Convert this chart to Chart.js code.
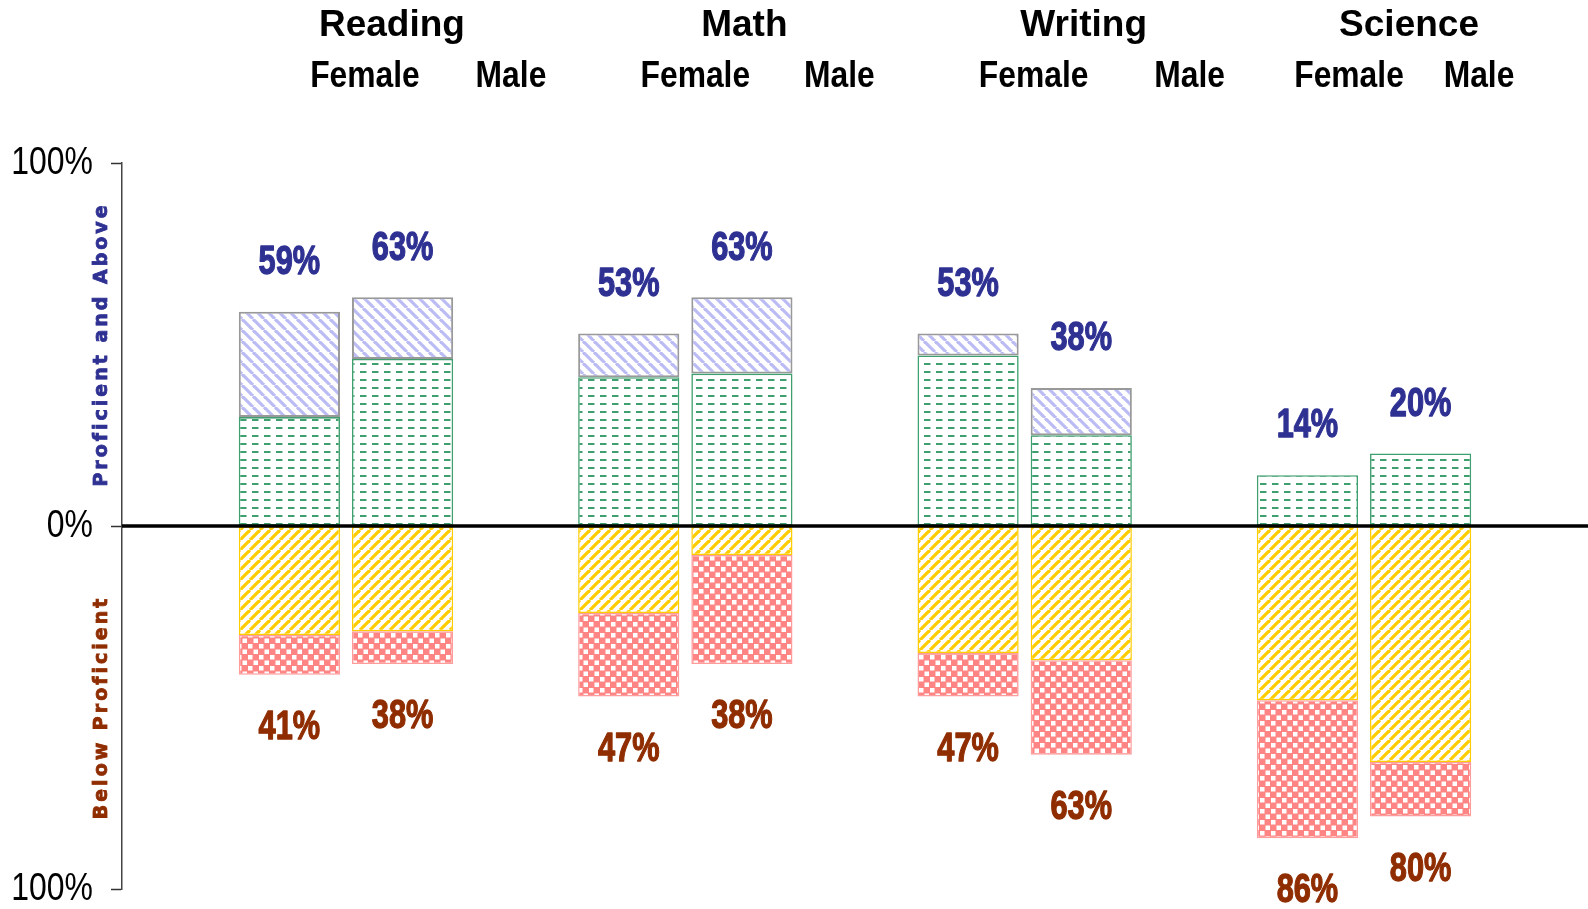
<!DOCTYPE html>
<html>
<head>
<meta charset="utf-8">
<script src="https://cdn.jsdelivr.net/npm/chart.js@4.4.1/dist/chart.umd.min.js"></script>
<style>
html, body { margin: 0; padding: 0; background: #fff; }
#wrap { width: 1588px; height: 909px; position: relative; }
</style>
</head>
<body>
<div id="wrap"><canvas id="chart"></canvas></div>
<script>
var subjects = ["Reading", "Math", "Writing", "Science"];
var genders = ["Female", "Male"];
var yTicks = [100, 0, -100];

// percent of students above the line
var femaleProficient = [30, 41, 47, 14];
var femaleAdvanced   = [29, 12, 6, 0];
var maleProficient   = [46, 42, 25, 20];
var maleAdvanced     = [17, 21, 13, 0];
// percent of students below the line
var femaleBasic      = [-30, -24, -35, -48];
var femaleBelowBasic = [-11, -23, -12, -38];
var maleBasic        = [-29, -8, -37, -65];
var maleBelowBasic   = [-9, -30, -26, -15];

var SANS = '"Liberation Sans", Arial, Helvetica, sans-serif';
var WIDE = '"DejaVu Sans", Verdana, sans-serif';
var BLUE_TXT = "#2e3192";
var BROWN_TXT = "#8f2d00";

// header text offsets from each subject's centre (px)
var subjectDx = [46, 59, 59, 45];
var femaleDx = [19, 10, 9, -15];
var maleDx = [165, 154, 165, 115];

var canvas = document.getElementById("chart");
var mainCtx = canvas.getContext("2d");

function tile(w, h, draw) {
    var c = document.createElement("canvas");
    c.width = w; c.height = h;
    var g = c.getContext("2d");
    g.fillStyle = "#fff";
    g.fillRect(0, 0, w, h);
    draw(g, w, h);
    return mainCtx.createPattern(c, "repeat");
}

var blueHatch = tile(11, 11, function(g, w, h) {
    g.strokeStyle = "#bcbcf5"; g.lineWidth = 3.2;
    [-w, 0, w].forEach(function(k) { g.beginPath(); g.moveTo(k, 0); g.lineTo(k + w, h); g.stroke(); });
});
var greenDash = tile(12, 8, function(g, w, h) {
    g.fillStyle = "#3f9f6f";
    g.fillRect(0, 3, 6.5, 2);
});
var yellowHatch = tile(10, 10, function(g, w, h) {
    g.strokeStyle = "#ffcc00"; g.lineWidth = 3.2;
    [-w, 0, w].forEach(function(k) { g.beginPath(); g.moveTo(k, h); g.lineTo(k + w, 0); g.stroke(); });
});
var redCheck = tile(11, 11, function(g, w, h) {
    g.fillStyle = "#ff8484";
    g.fillRect(0, 0, w, h);
    g.fillStyle = "#fff";
    g.fillRect(0.5, 0.5, 4.5, 4.5);
    g.fillRect(6, 6, 4.5, 4.5);
});

function pts(arr) {
    return arr.map(function(v, i) { return { x: i + 1, y: v }; });
}
function bw(w) {
    return function(ctx) { return ctx.raw && ctx.raw.y === 0 ? 0 : w; };
}

var datasets = [
    { label: "Female Proficient", stack: "Female", data: pts(femaleProficient), backgroundColor: greenDash, borderColor: "#3f9f6f", borderWidth: bw(1.6) },
    { label: "Female Advanced", stack: "Female", data: pts(femaleAdvanced), backgroundColor: blueHatch, borderColor: "#999999", borderWidth: bw(2) },
    { label: "Female Basic", stack: "Female", data: pts(femaleBasic), backgroundColor: yellowHatch, borderColor: "#ffcc00", borderWidth: bw(1.5) },
    { label: "Female Below Basic", stack: "Female", data: pts(femaleBelowBasic), backgroundColor: redCheck, borderColor: "#ff9c9c", borderWidth: bw(1.5) },
    { label: "Male Proficient", stack: "Male", data: pts(maleProficient), backgroundColor: greenDash, borderColor: "#3f9f6f", borderWidth: bw(1.6) },
    { label: "Male Advanced", stack: "Male", data: pts(maleAdvanced), backgroundColor: blueHatch, borderColor: "#999999", borderWidth: bw(2) },
    { label: "Male Basic", stack: "Male", data: pts(maleBasic), backgroundColor: yellowHatch, borderColor: "#ffcc00", borderWidth: bw(1.5) },
    { label: "Male Below Basic", stack: "Male", data: pts(maleBelowBasic), backgroundColor: redCheck, borderColor: "#ff9c9c", borderWidth: bw(1.5) }
];

function squeeze(ctx, txt, x, y, sx, heavy) {
    ctx.save();
    ctx.translate(x, y);
    ctx.scale(sx, 1);
    if (heavy) {
        ctx.lineWidth = heavy;
        ctx.strokeStyle = ctx.fillStyle;
        ctx.lineJoin = "round";
        ctx.strokeText(txt, 0, 0);
    }
    ctx.fillText(txt, 0, 0);
    ctx.restore();
}

var decor = {
    id: "decor",
    afterDatasetsDraw: function(chart) {
        var ctx = chart.ctx, area = chart.chartArea;
        var ys = chart.scales.y;
        // zero line on top of the bars
        var y0 = ys.getPixelForValue(0);
        ctx.save();
        ctx.strokeStyle = "#000";
        ctx.lineWidth = 3.5;
        ctx.beginPath();
        ctx.moveTo(area.left, y0);
        ctx.lineTo(area.right, y0);
        ctx.stroke();

        // totals above / below each bar
        ctx.font = "bold 41px " + SANS;
        ctx.textAlign = "center";
        ctx.textBaseline = "middle";
        var groups = [
            [femaleProficient, femaleAdvanced, femaleBasic, femaleBelowBasic, 0],
            [maleProficient, maleAdvanced, maleBasic, maleBelowBasic, 4]
        ];
        groups.forEach(function(g) {
            var meta = chart.getDatasetMeta(g[4]);
            subjects.forEach(function(s, i) {
                var x = meta.data[i].x;
                var up = g[0][i] + g[1][i];
                var down = g[2][i] + g[3][i];
                ctx.fillStyle = BLUE_TXT;
                squeeze(ctx, up + "%", x, ys.getPixelForValue(up) - 49, 0.75, 1.3);
                ctx.fillStyle = BROWN_TXT;
                squeeze(ctx, Math.abs(down) + "%", x, ys.getPixelForValue(down) + 53, 0.75, 1.3);
            });
        });

        // y tick labels
        ctx.font = "38px " + SANS;
        ctx.textAlign = "right";
        ctx.fillStyle = "#000";
        yTicks.forEach(function(v) {
            ctx.save();
            ctx.translate(area.left - 29, ys.getPixelForValue(v) + 1);
            ctx.scale(0.84, 1);
            ctx.fillText(Math.abs(v) + "%", 0, 0);
            ctx.restore();
        });
        ctx.restore();
    },
    afterDraw: function(chart) {
        var ctx = chart.ctx, xs = chart.scales.x, ys = chart.scales.y;
        ctx.save();
        ctx.textAlign = "center";
        ctx.textBaseline = "middle";
        ctx.fillStyle = "#000";
        subjects.forEach(function(s, i) {
            var cx = xs.getPixelForValue(i + 1);
            ctx.font = "bold 37px " + SANS;
            ctx.fillText(s, cx + subjectDx[i], 26);
            squeeze(ctx, genders[0], cx + femaleDx[i], 77, 0.86);
            squeeze(ctx, genders[1], cx + maleDx[i], 77, 0.86);
        });
        // side titles
        ctx.font = "bold 19px " + WIDE;
        ctx.letterSpacing = "3px";
        ctx.lineWidth = 0.8;
        var tx = chart.chartArea.left - 20;
        ctx.translate(tx, ys.getPixelForValue(50));
        ctx.rotate(-Math.PI / 2);
        ctx.fillStyle = ctx.strokeStyle = BLUE_TXT;
        ctx.strokeText("Proficient and Above", 0, 0);
        ctx.fillText("Proficient and Above", 0, 0);
        ctx.rotate(Math.PI / 2);
        ctx.translate(0, ys.getPixelForValue(-50) - ys.getPixelForValue(50));
        ctx.rotate(-Math.PI / 2);
        ctx.fillStyle = ctx.strokeStyle = BROWN_TXT;
        ctx.strokeText("Below Proficient", 0, 0);
        ctx.fillText("Below Proficient", 0, 0);
        ctx.restore();
    }
};

new Chart(canvas, {
    type: "bar",
    data: { datasets: datasets },
    options: {
        responsive: true,
        maintainAspectRatio: false,
        animation: false,
        layout: { padding: { top: 163, bottom: 20, left: 0, right: 0 } },
        categoryPercentage: 0.667,
        barPercentage: 0.894,
        borderSkipped: false,
        plugins: { legend: { display: false }, tooltip: { enabled: false } },
        scales: {
            x: {
                type: "linear",
                min: 0.34,
                max: 4.66,
                offset: false,
                stacked: true,
                display: false,
                grid: { offset: false },
                afterBuildTicks: function(scale) {
                    scale.ticks = subjects.map(function(s, i) { return { value: i + 1 }; });
                }
            },
            y: {
                min: -100,
                max: 100,
                stacked: true,
                afterBuildTicks: function(scale) {
                    scale.ticks = yTicks.map(function(v) { return { value: v }; });
                },
                afterFit: function(scale) { scale.width = 122; },
                ticks: { display: false },
                grid: {
                    drawOnChartArea: false,
                    color: "#333",
                    tickLength: 11,
                    tickWidth: 1.5
                },
                border: { color: "#444", width: 1.5 }
            }
        }
    },
    plugins: [decor]
});
</script>
</body>
</html>
